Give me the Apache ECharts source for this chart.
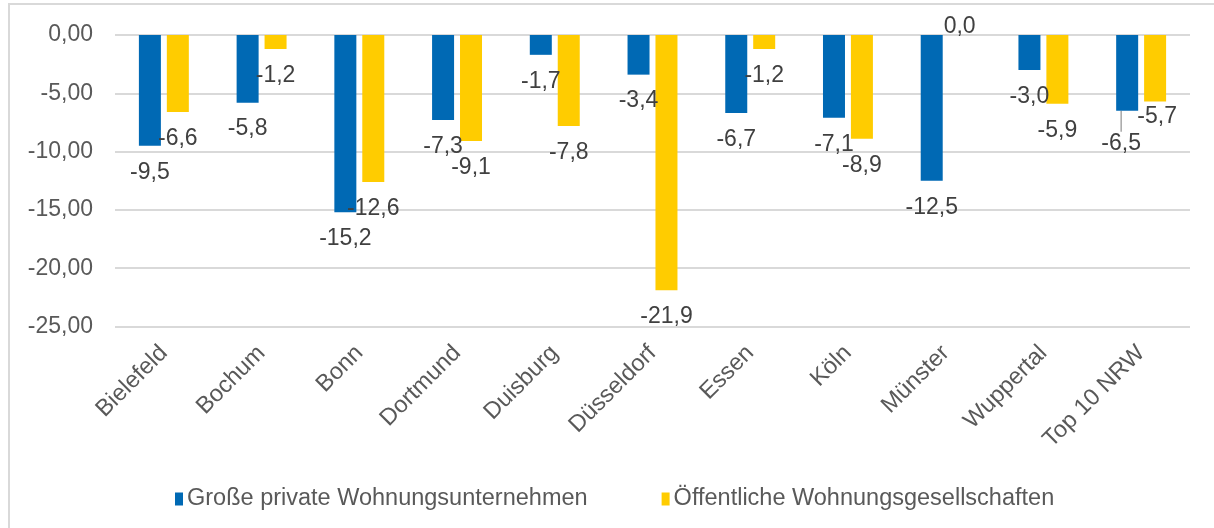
<!DOCTYPE html>
<html>
<head>
<meta charset="utf-8">
<script src="https://cdn.jsdelivr.net/npm/echarts@6/dist/echarts.min.js"></script>
<style>html,body{margin:0;padding:0;background:#fff;}#c{width:1214px;height:528px;}</style>
</head>
<body>
<div id="c"></div>
<script>
const categories = ['Bielefeld','Bochum','Bonn','Dortmund','Duisburg','Düsseldorf','Essen','Köln','Münster','Wuppertal','Top 10 NRW'];
const seriesNames = ['Große private Wohnungsunternehmen','Öffentliche Wohnungsgesellschaften'];
const privateValues = [-9.5,-5.8,-15.2,-7.3,-1.7,-3.4,-6.7,-7.1,-12.5,-3.0,-6.5];
const publicValues = [-6.6,-1.2,-12.6,-9.1,-7.8,-21.9,-1.2,-8.9,0.0,-5.9,-5.7];
const yTicks = {min:-25,max:0,interval:5};

const FONT = "'Liberation Sans', Arial, sans-serif";
const COLORS = ['#0069B4', '#FFCC00'];
const fmt1 = v => v.toFixed(1).replace('.', ',');
const fmt2 = v => v.toFixed(2).replace('.', ',');

// manual label nudges (as in the reference) for the last category
const labelNudge = {
  0: {10: {dx:-6, dy:6, line:true}},
  1: {10: {dx:2, dy:-11}}
};

function mkSeries(idx, name, values, color){
  return {
    name: name,
    type: 'bar',
    barWidth: 22,
    barGap: '27%',
    itemStyle: {color: color},
    data: values.map((v, i) => {
      const n = labelNudge[idx] && labelNudge[idx][i];
      const item = {value: v};
      if (v >= 0) item.label = {position: 'top', distance: -3};
      if (n && n.line) item.labelLine = {show: true, lineStyle: {color: '#a6a6a6', width: 1.5}};
      return item;
    }),
    label: {
      show: true,
      position: 'bottom',
      distance: 15,
      formatter: p => fmt1(p.value),
      fontFamily: FONT,
      fontSize: 23,
      color: '#404040'
    },
    labelLine: {show: false},
    labelLayout: function(p){
      const n = labelNudge[idx] && labelNudge[idx][p.dataIndex];
      return n ? {dx: n.dx, dy: n.dy} : {};
    }
  };
}

const chart = echarts.init(document.getElementById('c'), null, {renderer:'canvas'});
chart.setOption({
  animation: false,
  backgroundColor: '#ffffff',
  graphic: [{
    type: 'rect',
    shape: {x: 9, y: 4, width: 1300, height: 600},
    style: {fill: 'none', stroke: '#d9d9d9', lineWidth: 2},
    silent: true
  }],
  grid: {left: 115, right: 24, top: 35, bottom: 201.5, containLabel: false},
  legend: {
    data: seriesNames,
    left: 170,
    top: 482,
    itemWidth: 8,
    itemHeight: 13,
    itemGap: 74,
    icon: 'rect',
    textStyle: {fontFamily: FONT, fontSize: 23.5, color: '#595959', padding: [0, 0, 0, -1]}
  },
  xAxis: {
    type: 'category',
    data: categories,
    position: 'bottom',
    axisLine: {show: false},
    axisTick: {show: false},
    axisLabel: {
      rotate: 45,
      interval: 0,
      margin: 23,
      fontFamily: FONT,
      fontSize: 23.5,
      color: '#595959'
    }
  },
  yAxis: {
    type: 'value',
    min: yTicks.min,
    max: yTicks.max,
    interval: yTicks.interval,
    axisLine: {show: false},
    axisTick: {show: false},
    splitLine: {lineStyle: {color: '#d9d9d9', width: 2}},
    axisLabel: {
      margin: 22,
      formatter: v => fmt2(v),
      fontFamily: FONT,
      fontSize: 23,
      color: '#595959'
    }
  },
  series: [
    mkSeries(0, seriesNames[0], privateValues, COLORS[0]),
    mkSeries(1, seriesNames[1], publicValues, COLORS[1])
  ]
});
</script>
</body>
</html>
